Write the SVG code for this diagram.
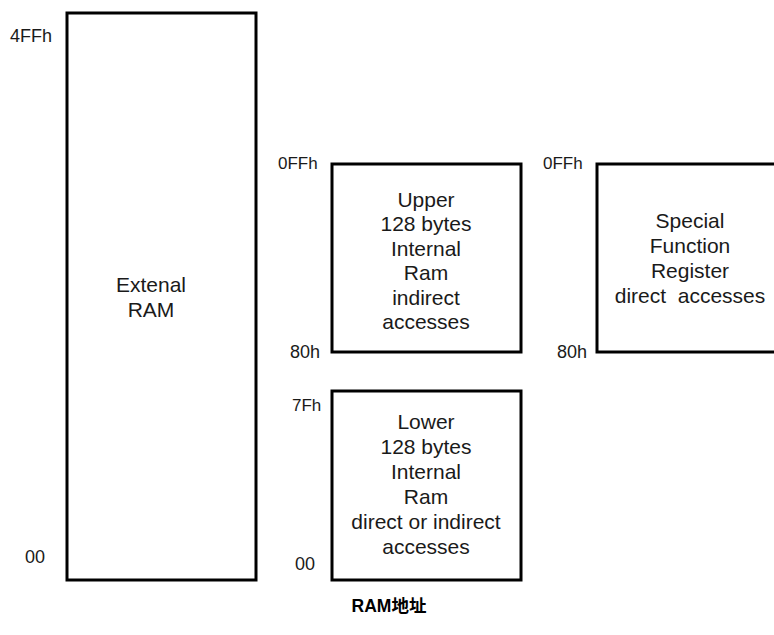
<svg xmlns="http://www.w3.org/2000/svg" width="774" height="635" viewBox="0 0 774 635">
<style>
.box{fill:#fff;stroke:#000;stroke-width:3}
.t{font-family:"Liberation Sans",Arial,sans-serif;font-size:21px;fill:#1a1a1a;text-anchor:middle}
.l{font-family:"Liberation Sans",Arial,sans-serif;font-size:17px;fill:#1a1a1a}
.c{font-family:"Liberation Sans","Noto Sans CJK SC",sans-serif;font-size:17.5px;font-weight:bold;fill:#000;text-anchor:middle}
</style>
<rect width="774" height="635" fill="#fff"/>
<g id="external-ram">
<rect class="box" x="67" y="13" width="189" height="567"/>
<text class="t" x="151" y="292">Extenal</text>
<text class="t" x="151" y="317">RAM</text>
<text class="l" x="10" y="41.5" style="font-size:18px">4FFh</text>
<text class="l" x="25" y="563" style="font-size:18px">00</text>
</g>
<g id="upper-ram">
<rect class="box" x="332" y="164" width="189" height="188"/>
<text class="t" x="426" y="206.5">Upper</text>
<text class="t" x="426" y="231">128 bytes</text>
<text class="t" x="426" y="255.5">Internal</text>
<text class="t" x="426" y="280">Ram</text>
<text class="t" x="426" y="304.5">indirect</text>
<text class="t" x="426" y="329">accesses</text>
<text class="l" x="278" y="169">0FFh</text>
<text class="l" x="290" y="358" style="font-size:18px">80h</text>
</g>
<g id="sfr">
<rect class="box" x="597" y="164" width="190" height="188"/>
<text class="t" x="690" y="227.5">Special</text>
<text class="t" x="690" y="253">Function</text>
<text class="t" x="690" y="277.5">Register</text>
<text class="t" x="690" y="302.5" xml:space="preserve">direct  accesses</text>
<text class="l" x="543" y="169">0FFh</text>
<text class="l" x="557" y="358" style="font-size:18px">80h</text>
</g>
<g id="lower-ram">
<rect class="box" x="332" y="391" width="189" height="189"/>
<text class="t" x="426" y="429">Lower</text>
<text class="t" x="426" y="454">128 bytes</text>
<text class="t" x="426" y="479">Internal</text>
<text class="t" x="426" y="504">Ram</text>
<text class="t" x="426" y="529">direct or indirect</text>
<text class="t" x="426" y="554">accesses</text>
<text class="l" x="292" y="411">7Fh</text>
<text class="l" x="295" y="570" style="font-size:18px">00</text>
</g>
<g id="connectors"></g>
<text class="c" x="389" y="612">RAM地址</text>
</svg>
